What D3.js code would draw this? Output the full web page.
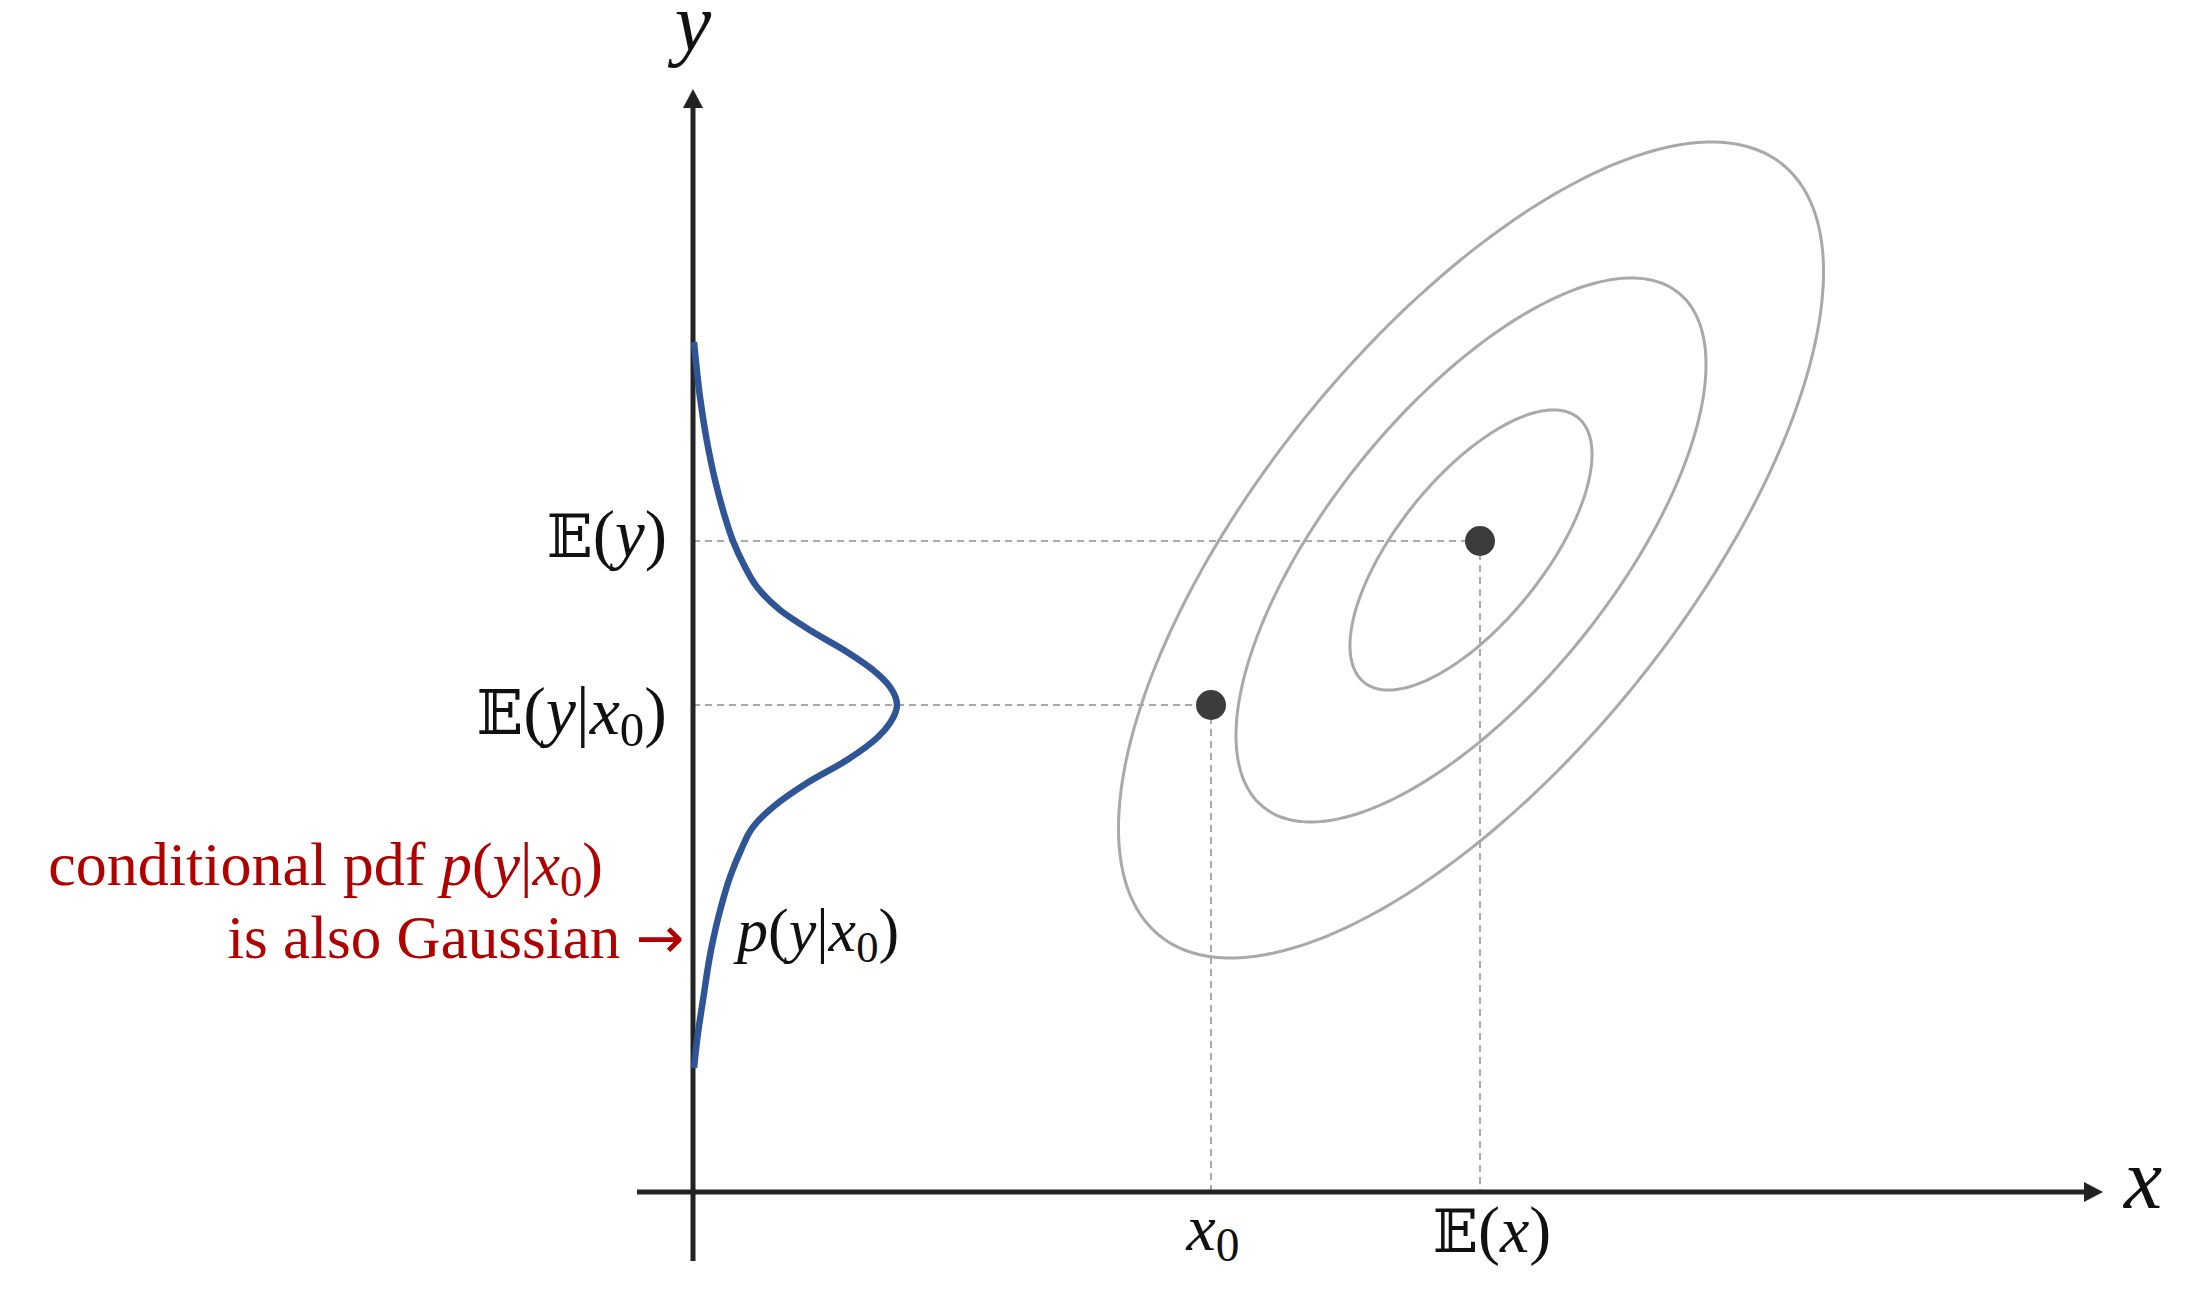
<!DOCTYPE html>
<html><head><meta charset="utf-8">
<script src="https://cdn.jsdelivr.net/npm/d3@7"></script>
<style>body{margin:0;background:#fff} svg{display:block}</style>
</head><body><svg id="c" width="2200" height="1298"></svg>
<script>
// ---- data ----
const xDomain = [-0.56, 14.1];
const yDomain = [-0.69, 11.03];
const meanPoint = [7.87, 6.51];          // (E(x), E(y))
const condPoint = [5.18, 4.87];          // (x0, E(y|x0))
const contourCenter = [7.78, 6.42];
const contourSigma = [1.175, 1.36];
const contourRho = 0.682;
const contourLevels = [1.03, 2, 3];
const pdfY =       [8.50, 7.95, 7.52, 7.12, 6.75, 6.51, 6.29, 6.05, 5.82, 5.60, 5.40, 5.22, 5.05, 4.87, 4.69, 4.55, 4.32, 4.09, 3.85, 3.65, 3.42, 3.15, 2.85, 2.42, 1.92, 1.59, 1.24];
const pdfDensity = [0.01, 0.07, 0.137,0.22, 0.32, 0.40, 0.50, 0.64, 0.87, 1.20, 1.54, 1.80, 1.97, 2.04, 1.97, 1.85, 1.54, 1.14, 0.80, 0.60, 0.48, 0.37, 0.28, 0.18, 0.10, 0.05, 0.01];
const axisLabels = {x: "x", y: "y"};
const yTickLabels = [
  [{t:"𝔼",k:"bb"},{t:"("},{t:"y",k:"i"},{t:")"}],
  [{t:"𝔼",k:"bb"},{t:"("},{t:"y",k:"i"},{t:"|"},{t:"x",k:"i"},{t:"0",k:"sub"},{t:")"}]
];
const xTickLabels = [
  [{t:"x",k:"i"},{t:"0",k:"sub"}],
  [{t:"𝔼",k:"bb"},{t:"("},{t:"x",k:"i"},{t:")"}]
];
const pdfLabel = [{t:"p",k:"i"},{t:"("},{t:"y",k:"i"},{t:"|"},{t:"x",k:"i"},{t:"0",k:"sub"},{t:")"}];
const noteLine1 = [{t:"conditional pdf "},{t:"p",k:"i"},{t:"("},{t:"y",k:"i"},{t:"|"},{t:"x",k:"i"},{t:"0",k:"sub"},{t:")"}];
const noteLine2 = [{t:"is also Gaussian "},{t:"→",k:"sym"}];

// ---- scales ----
const svg = d3.select("#c");
const xS = d3.scaleLinear().domain(xDomain).range([637, 2103]);
const yS = d3.scaleLinear().domain(yDomain).range([1261, 89]);

const AX = "#232323", GREY = "#a9a9a9", BLUE = "#2f5597", RED = "#b00000", DOT = "#3c3c3c";
const SERIF = "'Liberation Serif', 'Times New Roman', serif";

// dashed guide lines
const guides = [
  [[0, meanPoint[1]], meanPoint],
  [[0, condPoint[1]], condPoint],
  [meanPoint, [meanPoint[0], 0]],
  [condPoint, [condPoint[0], 0]]
];
svg.append("g").selectAll("line").data(guides).join("line")
  .attr("x1", d => xS(d[0][0])).attr("y1", d => yS(d[0][1]))
  .attr("x2", d => xS(d[1][0])).attr("y2", d => yS(d[1][1]))
  .attr("stroke", GREY).attr("stroke-width", 2).attr("stroke-dasharray", "7,5");

// contour ellipses
const ts = d3.range(0, 360, 2).map(a => a * Math.PI / 180);
const sq = Math.sqrt(1 - contourRho * contourRho);
const ell = d3.line().curve(d3.curveCardinalClosed)
  .x(d => xS(d[0])).y(d => yS(d[1]));
svg.append("g").selectAll("path").data(contourLevels).join("path")
  .attr("d", k => ell(ts.map(t => [
    contourCenter[0] + k * contourSigma[0] * Math.cos(t),
    contourCenter[1] + k * contourSigma[1] * (contourRho * Math.cos(t) + sq * Math.sin(t))
  ])))
  .attr("fill", "none").attr("stroke", GREY).attr("stroke-width", 3);

// axes
const ax = svg.append("g");
const arrowLen = 19, arrowHalf = 10;
ax.append("line").attr("x1", xS(xDomain[0])).attr("x2", xS(xDomain[1]) - arrowLen + 2)
  .attr("y1", yS(0)).attr("y2", yS(0)).attr("stroke", AX).attr("stroke-width", 5);
ax.append("line").attr("y1", yS(yDomain[0])).attr("y2", yS(yDomain[1]) + arrowLen - 2)
  .attr("x1", xS(0)).attr("x2", xS(0)).attr("stroke", AX).attr("stroke-width", 5);
ax.append("path").attr("fill", AX).attr("d", () => {
  const tx = xS(xDomain[1]), ty = yS(0);
  return `M${tx},${ty}L${tx - arrowLen},${ty - arrowHalf}L${tx - arrowLen},${ty + arrowHalf}Z`;
});
ax.append("path").attr("fill", AX).attr("d", () => {
  const tx = xS(0), ty = yS(yDomain[1]);
  return `M${tx},${ty}L${tx - arrowHalf},${ty + arrowLen}L${tx + arrowHalf},${ty + arrowLen}Z`;
});

// conditional pdf curve
const pdfPts = pdfY.map((y, i) => [pdfDensity[i], y]);
svg.append("path")
  .attr("d", d3.line().curve(d3.curveMonotoneY).x(d => xS(d[0])).y(d => yS(d[1]))(pdfPts.slice().reverse()))
  .attr("fill", "none").attr("stroke", BLUE).attr("stroke-width", 6.5).attr("stroke-linecap", "butt");

// points
svg.append("g").selectAll("circle").data([meanPoint, condPoint]).join("circle")
  .attr("cx", d => xS(d[0])).attr("cy", d => yS(d[1])).attr("r", 15).attr("fill", DOT);

// ---- text helper ----
function mathText(x, y, segs, size, anchor, fill) {
  const t = svg.append("text").attr("x", x).attr("y", y).attr("text-anchor", anchor)
    .attr("font-size", size).attr("fill", fill).attr("font-family", SERIF);
  let down = 0;
  segs.forEach(s => {
    const sp = t.append("tspan").text(s.t);
    if (s.k === "i") sp.attr("font-style", "italic");
    if (s.k === "bb") sp.attr("font-family", "'DejaVu Serif', 'DejaVu Sans', serif").attr("font-size", size * 0.9);
    if (s.k === "sym") sp.attr("font-family", "'DejaVu Sans', sans-serif").attr("font-size", size * 0.95);
    if (s.k === "sub") {
      sp.attr("font-size", size * 0.72).attr("dy", size * 0.17 - down);
      down = size * 0.17;
    } else if (down) {
      sp.attr("dy", -down); down = 0;
    }
  });
  return t;
}

// axis labels
mathText(xS(0), 50, [{t: axisLabels.y, k: "i"}], 82, "middle", "#111");
mathText(2143, yS(0) + 16, [{t: axisLabels.x, k: "i"}], 86, "middle", "#111");

// y tick labels
mathText(xS(0) - 26, yS(meanPoint[1]) + 16, yTickLabels[0], 67, "end", "#111");
mathText(xS(0) - 26, yS(condPoint[1]) + 29, yTickLabels[1], 68, "end", "#111");

// x tick labels
mathText(xS(condPoint[0]) + 2, yS(0) + 58, xTickLabels[0], 66, "middle", "#111");
mathText(xS(meanPoint[0]) + 12, yS(0) + 60, xTickLabels[1], 66, "middle", "#111");

// pdf label
mathText(737, 951, pdfLabel, 62, "start", "#111");

// red note
mathText(603, 885, noteLine1, 62, "end", RED);
mathText(684, 958, noteLine2, 61, "end", RED);
</script></body></html>
